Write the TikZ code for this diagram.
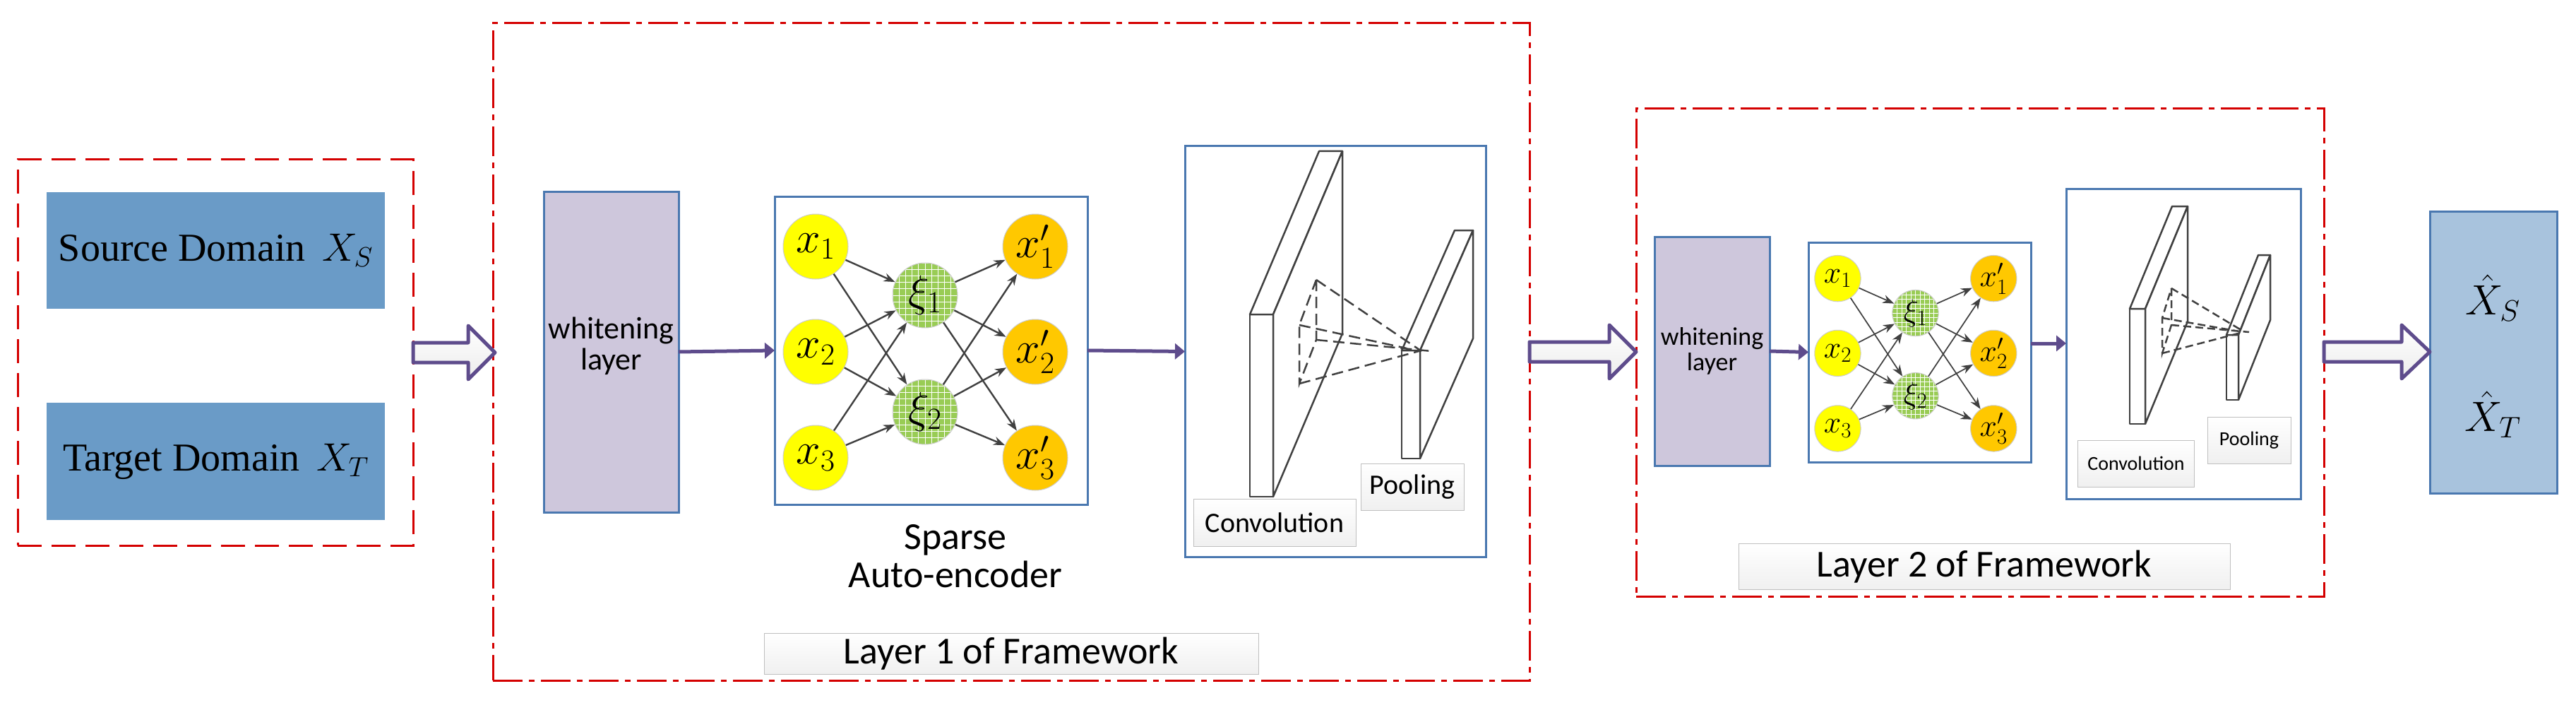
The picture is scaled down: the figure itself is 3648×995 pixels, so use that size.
\documentclass[tikz,border=0pt]{standalone}
\usepackage{fix-cm}
\usepackage{fontspec}
\setmainfont{Liberation Serif}
\newfontfamily\calfnt{Carlito}
\usetikzlibrary{arrows.meta,calc}
\definecolor{redd}{HTML}{D40000}
\definecolor{purp}{HTML}{5E4C8C}
\definecolor{srcblue}{HTML}{6A9BC7}
\definecolor{outblue}{HTML}{A8C3DD}
\definecolor{wlil}{HTML}{CEC7DC}
\definecolor{bord}{HTML}{4A78B0}
\definecolor{yel}{HTML}{FFFF00}
\definecolor{ora}{HTML}{FFC800}
\definecolor{grn}{HTML}{99CC55}
\newcommand\fs[1]{\fontsize{#1}{#1}\selectfont}
\tikzset{
  frameA/.style={draw=redd,line width=3pt,dash pattern=on 34pt off 14pt,outer sep=0pt},
  frameB/.style={draw=redd,line width=3pt,dash pattern=on 42pt off 9pt on 8pt off 9pt,outer sep=0pt},
  blbox/.style={draw=bord,line width=3pt,fill=white,outer sep=0pt},
  srcbox/.style={fill=srcblue,outer sep=0pt,font=\fs{56}},
  wbox/.style={draw=bord,line width=3pt,fill=wlil,outer sep=0pt,align=center},
  outbox/.style={draw=bord,line width=3pt,fill=outblue,outer sep=0pt},
  lab/.style={draw=gray!50,line width=1pt,top color=white,bottom color=gray!12,outer sep=0pt},
  hollow/.style={draw=purp,line width=5pt,line join=round,top color=white,bottom color=gray!15},
  link/.style={draw=purp,line width=5pt,-{Triangle[length=14pt,width=22pt]}},
  nnet/.style={draw=black!75,line width=2.2pt,-{Stealth[length=16pt,width=12pt]}},
  slab/.style={draw=black!75,line width=2.5pt,fill=white,line join=round},
  dsh/.style={draw=black!75,line width=2.5pt,dash pattern=on 16pt off 8pt},
  gridded/.style={path picture={
     \foreach \k in {0,0.1,...,1.01}{
       \draw[white,line width=0.8pt] ($(path picture bounding box.south west)!\k!(path picture bounding box.south east)$) -- ++(0,200pt);
       \draw[white,line width=0.8pt] ($(path picture bounding box.south west)!\k!(path picture bounding box.north west)$) -- ++(200pt,0);}}},
}
% SAE: #1 prefix, #2 cx, #3 cy, #4 scale, #5 font size
\newcommand\saenet[5]{%
 \begin{scope}[shift={(#2,#3)},x=#4pt,y=-#4pt,
   cir/.style={circle,draw=black!20,line width=1pt,minimum size=#4*92pt,inner sep=0pt,font=\fs{#5}}]
  \node[cir,fill=yel] (#1a1) at (-163.5,-147) {$x_1$};
  \node[cir,fill=yel] (#1a2) at (-163.5,2) {$x_2$};
  \node[cir,fill=yel] (#1a3) at (-163.5,152) {$x_3$};
  \node[cir,fill=grn,gridded] (#1h1) at (-8.5,-78) {$\xi_1$};
  \node[cir,fill=grn,gridded] (#1h2) at (-8.5,87) {$\xi_2$};
  \node[cir,fill=ora] (#1b1) at (147.5,-147) {$x'_1$};
  \node[cir,fill=ora] (#1b2) at (147.5,2) {$x'_2$};
  \node[cir,fill=ora] (#1b3) at (147.5,152) {$x'_3$};
  \foreach \i in {1,2,3}{\foreach \j in {1,2}{
     \draw[nnet,line width=#4*2.4pt] (#1a\i) -- (#1h\j);
     \draw[nnet,line width=#4*2.4pt] (#1h\j) -- (#1b\i);}}
 \end{scope}}
% slab: x y w h dx dy
\newcommand\slabdraw[6]{%
  \draw[slab] (#1,#2) rectangle ++(#3,#4);
  \draw[slab] (#1,#2) -- ++(#5,#6) -- ++(#3,0) -- ($(#1,#2)+(#3,0)$) -- cycle;
  \draw[slab] ($(#1,#2)+(#3,0)$) -- ++(#5,#6) -- ++(0,#4) -- ($(#1,#2)+(#3,#4)$) -- cycle;}
\begin{document}
\begin{tikzpicture}[x=1pt,y=-1pt]
\useasboundingbox (0,0) rectangle (3648,995);
% frames
\node[frameA,minimum width=560pt,minimum height=546pt] (inbox) at (305,499) {};
\node[frameB,minimum width=1468pt,minimum height=930pt] (lay1) at (1432,498) {};
\node[frameB,minimum width=974pt,minimum height=690pt] (lay2) at (2804,499) {};
% input
\node[srcbox,minimum width=479pt,minimum height=165pt] (src) at (305.5,354.5) {Source Domain \,$X_S$};
\node[srcbox,minimum width=479pt,minimum height=166pt] (tgt) at (305.5,653) {Target Domain \,$X_T$};
% layer 1
\node[wbox,minimum width=191pt,minimum height=454pt] (wh1) at (865.5,498) {};
\node[font=\calfnt\fs{44},align=center] (wh1t) at (865.5,490) {whitening\\layer};
\node[blbox,minimum width=443pt,minimum height=436pt] (sae1) at (1318.5,496) {};
\saenet{p}{1318.5}{496}{1}{62}
\node[font=\calfnt\fs{54},align=center] (sparse) at (1353,787) {Sparse\\Auto-encoder};
\node[blbox,minimum width=426pt,minimum height=581pt] (conv1) at (1891,497.5) {};
\slabdraw{1770}{445}{33}{258}{98}{-231}
\slabdraw{1985}{496}{26}{153}{75}{-170}
\draw[dsh] (1864,396) -- (1864,481) -- (1840,543) -- (1840,460) -- cycle;
\draw[dsh] (1864,396) -- (2013,497);
\draw[dsh] (1840,460) -- (1992,493);
\draw[dsh] (1864,481) -- (2027,497);
\draw[dsh] (1840,543) -- (2013,496);
\node[lab,minimum width=230pt,minimum height=67pt,font=\calfnt\fs{40}] (cl1) at (1805,740) {Convolution};
\node[lab,minimum width=146pt,minimum height=66pt,font=\calfnt\fs{40}] (pl1) at (2000,689) {Pooling};
\node[lab,minimum width=700pt,minimum height=58pt,font=\calfnt\fs{54}] (l1lab) at (1432,925) {Layer 1 of Framework};
% layer 2
\node[wbox,minimum width=163pt,minimum height=324pt,font=\calfnt\fs{36}] (wh2) at (2424.5,497) {whitening\\layer};
\node[blbox,minimum width=315pt,minimum height=311pt] (sae2) at (2718.5,498.5) {};
\saenet{q}{2718.5}{498.5}{0.71}{44}
\node[blbox,minimum width=332pt,minimum height=439pt] (conv2) at (3092,486.5) {};
\slabdraw{3016}{437}{22}{163}{60}{-145}
\slabdraw{3153}{474}{17}{92}{45}{-113}
\draw[dsh,dash pattern=on 11pt off 6pt] (3075,408) -- (3075,460) -- (3062,500) -- (3062,450) -- cycle;
\draw[dsh,dash pattern=on 11pt off 6pt] (3075,408) -- (3177,469);
\draw[dsh,dash pattern=on 11pt off 6pt] (3062,450) -- (3165,468);
\draw[dsh,dash pattern=on 11pt off 6pt] (3075,460) -- (3185,470);
\draw[dsh,dash pattern=on 11pt off 6pt] (3062,500) -- (3177,470);
\node[lab,minimum width=165pt,minimum height=66pt,font=\calfnt\fs{28}] (cl2) at (3025,656) {Convolution};
\node[lab,minimum width=118pt,minimum height=66pt,font=\calfnt\fs{28}] (pl2) at (3185,623) {Pooling};
\node[lab,minimum width=696pt,minimum height=65pt,font=\calfnt\fs{54}] (l2lab) at (2810,802) {Layer 2 of Framework};
% output
\node[outbox,minimum width=180pt,minimum height=399pt] (out) at (3531,498.5) {};
\node[font=\fs{60}] (xs) at (3530,422) {$\hat{X}_S$};
\node[font=\fs{60}] (xt) at (3530,587) {$\hat{X}_T$};
% connectors
\draw[link] (wh1.east) -- (sae1.west);
\draw[link] (sae1.east) -- (conv1.west);
\draw[link] (wh2.east) -- (sae2.west);
\draw[link] (sae2.east |- 0,486) -- (conv2.west |- 0,486);
\draw[hollow] (inbox.east) ++(0,-14) -- ++(78,0) -- ++(0,-24) -- ++(38,38) -- ++(-38,38) -- ++(0,-24) -- ++(-78,0) -- cycle;
\draw[hollow] (lay1.east |- 0,498) ++(0,-14) -- ++(113,0) -- ++(0,-24) -- ++(38,38) -- ++(-38,38) -- ++(0,-24) -- ++(-113,0) -- cycle;
\draw[hollow] (lay2.east |- 0,498) ++(0,-14) -- ++(110,0) -- ++(0,-24) -- ++(40,38) -- ++(-40,38) -- ++(0,-24) -- ++(-110,0) -- cycle;
\end{tikzpicture}
\end{document}
